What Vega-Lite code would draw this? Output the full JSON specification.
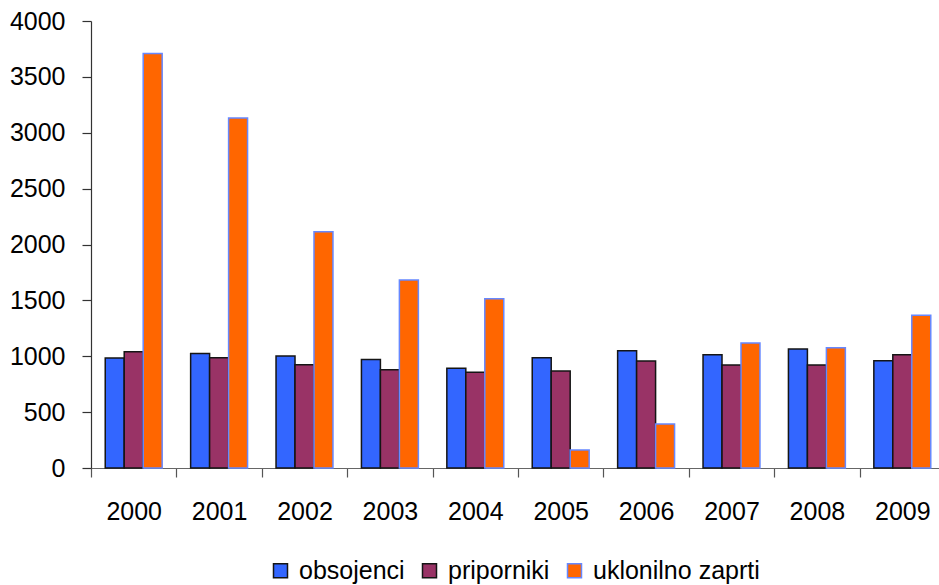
{
  "$schema": "https://vega.github.io/schema/vega-lite/v6.json",
  "autosize": "none",
  "width": 848,
  "height": 447,
  "padding": {"left": 91, "top": 21, "right": 0, "bottom": 117},
  "background": "white",
  "config": {
    "font": "Liberation Sans",
    "view": {"stroke": null},
    "axis": {"grid": false, "title": null, "labelFont": "Liberation Sans", "labelFontSize": 25, "labelColor": "#000"}
  },
  "data": {
    "values": [
      {"year": "2000", "series": "obsojenci", "value": 985},
      {"year": "2000", "series": "priporniki", "value": 1040},
      {"year": "2000", "series": "uklonilno zaprti", "value": 3710},
      {"year": "2001", "series": "obsojenci", "value": 1025},
      {"year": "2001", "series": "priporniki", "value": 987},
      {"year": "2001", "series": "uklonilno zaprti", "value": 3133},
      {"year": "2002", "series": "obsojenci", "value": 1002},
      {"year": "2002", "series": "priporniki", "value": 924},
      {"year": "2002", "series": "uklonilno zaprti", "value": 2114},
      {"year": "2003", "series": "obsojenci", "value": 972},
      {"year": "2003", "series": "priporniki", "value": 880},
      {"year": "2003", "series": "uklonilno zaprti", "value": 1682},
      {"year": "2004", "series": "obsojenci", "value": 892},
      {"year": "2004", "series": "priporniki", "value": 856},
      {"year": "2004", "series": "uklonilno zaprti", "value": 1515},
      {"year": "2005", "series": "obsojenci", "value": 987},
      {"year": "2005", "series": "priporniki", "value": 868},
      {"year": "2005", "series": "uklonilno zaprti", "value": 161},
      {"year": "2006", "series": "obsojenci", "value": 1049},
      {"year": "2006", "series": "priporniki", "value": 957},
      {"year": "2006", "series": "uklonilno zaprti", "value": 394},
      {"year": "2007", "series": "obsojenci", "value": 1014},
      {"year": "2007", "series": "priporniki", "value": 921},
      {"year": "2007", "series": "uklonilno zaprti", "value": 1118},
      {"year": "2008", "series": "obsojenci", "value": 1064},
      {"year": "2008", "series": "priporniki", "value": 921},
      {"year": "2008", "series": "uklonilno zaprti", "value": 1077},
      {"year": "2009", "series": "obsojenci", "value": 960},
      {"year": "2009", "series": "priporniki", "value": 1014},
      {"year": "2009", "series": "uklonilno zaprti", "value": 1366}
    ]
  },
  "mark": {"type": "bar", "strokeWidth": 1.5},
  "encoding": {
    "x": {
      "field": "year", "type": "nominal", "sort": null,
      "scale": {"paddingInner": 0, "paddingOuter": 0, "range": [0, 854]},
      "axis": {"labelAngle": 0, "tickBand": "extent", "tickSize": 9, "labelPadding": 22, "domainColor": "#666", "tickColor": "#555", "domainWidth": 1.2, "tickWidth": 1.2}
    },
    "xOffset": {
      "field": "series", "type": "nominal",
      "scale": {"paddingInner": 0, "paddingOuter": 0.75}
    },
    "y": {
      "field": "value", "type": "quantitative",
      "scale": {"domain": [0, 4000], "nice": false},
      "axis": {"values": [0, 500, 1000, 1500, 2000, 2500, 3000, 3500, 4000], "format": "d", "tickSize": 9, "labelPadding": 17, "domainColor": "#333", "tickColor": "#333", "domainWidth": 1.2, "tickWidth": 1.2}
    },
    "fill": {
      "field": "series", "type": "nominal",
      "scale": {"domain": ["obsojenci", "priporniki", "uklonilno zaprti"], "range": ["#3366FF", "#993366", "#FF6600"]},
      "legend": {"title": null, "orient": "none", "legendX": 177, "legendY": 537, "direction": "horizontal", "symbolType": "square", "symbolSize": 196, "symbolStrokeWidth": 1.5, "symbolStrokeColor": "#151515", "symbolOpacity": 1, "labelFontSize": 25, "labelFont": "Liberation Sans", "labelColor": "#000", "labelOffset": 6, "labelLimit": 0, "columnPadding": 12, "padding": 0,
        "encode": {"symbols": {"update": {"stroke": {"scale": "stroke", "field": "value"}, "strokeWidth": {"value": 1.5}, "strokeOpacity": {"value": 1}}}}}
    },
    "stroke": {
      "field": "series", "type": "nominal",
      "scale": {"domain": ["obsojenci", "priporniki", "uklonilno zaprti"], "range": ["#151515", "#151515", "#6688FF"]},
      "legend": null
    }
  }
}
